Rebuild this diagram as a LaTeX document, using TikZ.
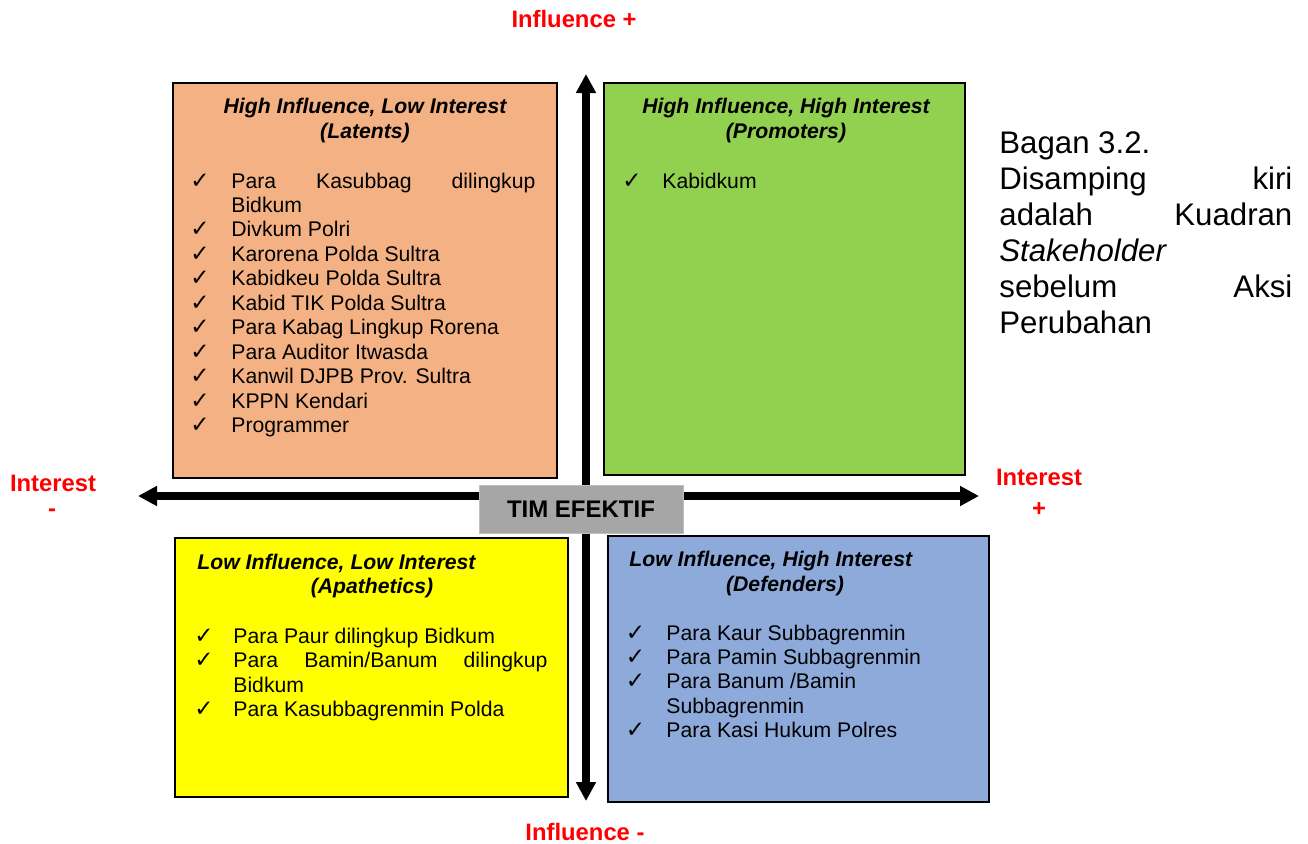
\documentclass[tikz,border=0pt]{standalone}
\usepackage{fontspec}
\setmainfont{Liberation Sans}
\newfontfamily\symfont{DejaVu Sans}
\usetikzlibrary{arrows.meta}
\definecolor{latent}{HTML}{F4B183}
\definecolor{promo}{HTML}{92D050}
\definecolor{apath}{HTML}{FFFF00}
\definecolor{defend}{HTML}{8EAADB}
\definecolor{timgray}{HTML}{A6A6A6}
\definecolor{lblred}{HTML}{FF0000}
\newcommand\itemfont{\fontsize{10.6pt}{12.25pt}\selectfont}
\newcommand\sidefont{\fontsize{15.6pt}{18pt}\selectfont}
\newcommand\lblfont{\fontsize{11.9pt}{14pt}\selectfont\bfseries}
\begin{document}
\begin{tikzpicture}[x=0.5pt,y=-0.5pt,
  quad/.style={draw=black,line width=1pt,inner sep=0pt,anchor=north west},
  item/.style={anchor=base west,inner sep=0pt,font=\itemfont},
  chk/.style={anchor=base,inner sep=0pt,font=\symfont\fontsize{11.5pt}{12pt}\selectfont},
  head/.style={anchor=base,inner sep=0pt,font=\itemfont\bfseries\itshape},
  headl/.style={anchor=base west,inner sep=0pt,font=\itemfont\bfseries\itshape},
  axlabel/.style={anchor=base,inner sep=0pt,text=lblred,font=\lblfont},
  side/.style={anchor=base west,inner sep=0pt,font=\sidefont},
  axis/.style={line width=3.75pt,{Triangle[length=9.5pt,width=9.5pt]}-{Triangle[length=9.5pt,width=9.5pt]}},
  timbox/.style={fill=timgray,draw=gray!50,line width=0.5pt,minimum width=102pt,minimum height=24pt,inner sep=0pt,font=\fontsize{12pt}{14pt}\selectfont\bfseries}
]
\useasboundingbox (0,0) rectangle (1308,843);

% quadrants
\node[quad,fill=latent,minimum width=192pt,minimum height=197.5pt] (q1) at (172,82) {};
\node[quad,fill=promo,minimum width=180.5pt,minimum height=196pt] (q2) at (603,82) {};
\node[quad,fill=apath,minimum width=196.5pt,minimum height=129.5pt] (q3) at (174,537) {};
\node[quad,fill=defend,minimum width=190.5pt,minimum height=133pt] (q4) at (607,535) {};

% axes
\coordinate (atop) at (586,74);
\coordinate (abot) at (586,801);
\coordinate (aleft) at (138,496);
\coordinate (aright) at (979,496);
\draw[axis] (atop) -- (abot);
\draw[axis] (aleft) -- (aright);

\node[timbox] (tim) at (581,509) {TIM EFEKTIF};

% axis labels
\node[axlabel] (inftop) at (574,27.5) {Influence +};
\node[axlabel] (infbot) at (585,840.5) {Influence -};
\node[axlabel] (intl) at (53,491.7) {Interest};
\node[axlabel] (intlm) at (52,516) {-};
\node[axlabel] (intr) at (1039,485) {Interest};
\node[axlabel] (intrp) at (1039,516) {+};

% Latents
\node[head] (h1a) at (365,113.3) {High Influence, Low Interest};
\node[head] (h1b) at (365,138.3) {(Latents)};
\node[chk] (c1a) at (200,188) {✓};
\node[item] (t1a) at (231,188) {\makebox[152pt][s]{Para Kasubbag dilingkup}};
\node[item] (t1b) at (231,212.5) {Bidkum};
\node[chk] (c1c) at (200,236.9) {✓};
\node[item] (t1c) at (231,236.9) {Divkum Polri};
\node[chk] (c1d) at (200,261.4) {✓};
\node[item] (t1d) at (231,261.4) {Karorena Polda Sultra};
\node[chk] (c1e) at (200,285.8) {✓};
\node[item] (t1e) at (231,285.8) {Kabidkeu Polda Sultra};
\node[chk] (c1f) at (200,310.3) {✓};
\node[item] (t1f) at (231,310.3) {Kabid TIK Polda Sultra};
\node[chk] (c1g) at (200,334.7) {✓};
\node[item] (t1g) at (231,334.7) {Para Kabag Lingkup Rorena};
\node[chk] (c1h) at (200,359.2) {✓};
\node[item] (t1h) at (231,359.2) {Para Auditor Itwasda};
\node[chk] (c1i) at (200,383.6) {✓};
\node[item] (t1i) at (231,383.6) {Kanwil DJPB Prov. Sultra};
\node[chk] (c1j) at (200,408.1) {✓};
\node[item] (t1j) at (231,408.1) {KPPN Kendari};
\node[chk] (c1k) at (200,432.5) {✓};
\node[item] (t1k) at (231,432.5) {Programmer};

% Promoters
\node[head] (h2a) at (786,113.3) {High Influence, High Interest};
\node[head] (h2b) at (786,138.3) {(Promoters)};
\node[chk] (c2a) at (632,188.3) {✓};
\node[item] (t2a) at (662,188.3) {Kabidkum};

% Apathetics
\node[headl] (h3a) at (197,569.3) {Low Influence, Low Interest};
\node[head] (h3b) at (372,593.8) {(Apathetics)};
\node[chk] (c3a) at (204,643.3) {✓};
\node[item] (t3a) at (233,643.3) {Para Paur dilingkup Bidkum};
\node[chk] (c3b) at (204,667.7) {✓};
\node[item] (t3b) at (233,667.7) {\makebox[157pt][s]{Para Bamin/Banum dilingkup}};
\node[item] (t3c) at (233,692.1) {Bidkum};
\node[chk] (c3d) at (204,716.5) {✓};
\node[item] (t3d) at (233,716.5) {Para Kasubbagrenmin Polda};

% Defenders
\node[headl] (h4a) at (629,566.7) {Low Influence, High Interest};
\node[head] (h4b) at (785,591.7) {(Defenders)};
\node[chk] (c4a) at (635.5,640) {✓};
\node[item] (t4a) at (666,640) {Para Kaur Subbagrenmin};
\node[chk] (c4b) at (635.5,664.4) {✓};
\node[item] (t4b) at (666,664.4) {Para Pamin Subbagrenmin};
\node[chk] (c4c) at (635.5,688.8) {✓};
\node[item] (t4c) at (666,688.8) {Para Banum /Bamin};
\node[item] (t4d) at (666,713.2) {Subbagrenmin};
\node[chk] (c4e) at (635.5,737.6) {✓};
\node[item] (t4e) at (666,737.6) {Para Kasi Hukum Polres};

% side caption
\node[side] (s1) at (999,153) {Bagan 3.2.};
\node[side] (s2) at (999,189) {\makebox[146.5pt][s]{Disamping kiri}};
\node[side] (s3) at (999,225) {\makebox[146.5pt][s]{adalah Kuadran}};
\node[side] (s4) at (999,261) {\itshape Stakeholder};
\node[side] (s5) at (999,297) {\makebox[146.5pt][s]{sebelum Aksi}};
\node[side] (s6) at (999,333) {Perubahan};
\end{tikzpicture}
\end{document}
